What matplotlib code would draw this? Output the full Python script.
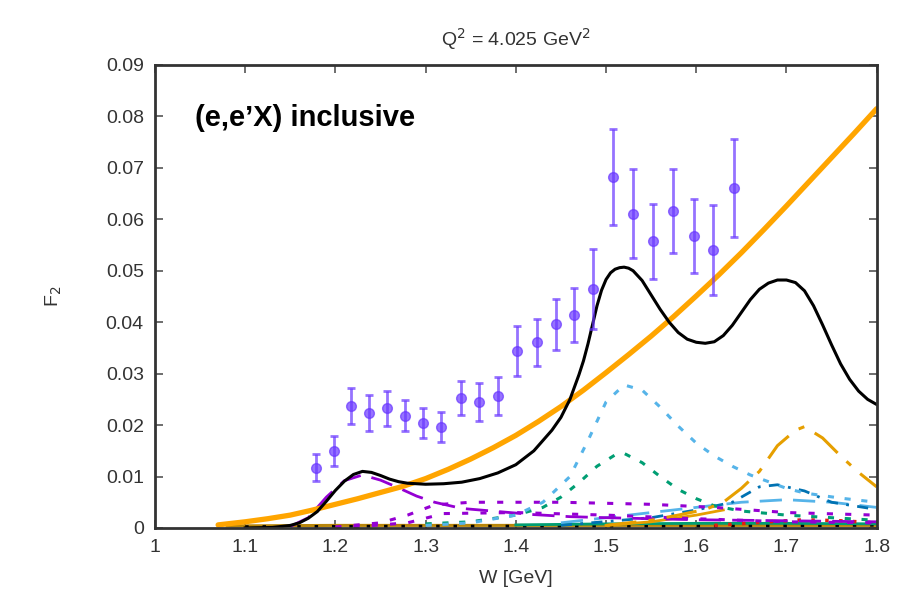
import matplotlib
matplotlib.use("Agg")
import matplotlib.pyplot as plt

plt.rcParams['font.family'] = ['Liberation Sans', 'DejaVu Sans']

# ---------------- data ----------------
data_W = [1.179, 1.198, 1.217, 1.237, 1.257, 1.277, 1.297, 1.317, 1.339, 1.359, 1.380,
          1.401, 1.423, 1.444, 1.464, 1.486, 1.508, 1.530, 1.552, 1.574, 1.597, 1.619, 1.642]
data_F2 = [0.0117, 0.0149, 0.0238, 0.0223, 0.0233, 0.0218, 0.0204, 0.0197, 0.0252, 0.0245, 0.0257,
           0.0344, 0.0361, 0.0396, 0.0414, 0.0465, 0.0682, 0.0611, 0.0557, 0.0616, 0.0567, 0.0540, 0.0661]
data_err = [0.0026, 0.0029, 0.0035, 0.0035, 0.0034, 0.0030, 0.0030, 0.0029, 0.0033, 0.0037, 0.0037,
            0.0049, 0.0046, 0.0050, 0.0053, 0.0078, 0.0093, 0.0087, 0.0073, 0.0082, 0.0072, 0.0087, 0.0096]

total_W = [1.10, 1.13, 1.15, 1.16, 1.17, 1.18, 1.19, 1.20, 1.21, 1.22, 1.23, 1.24, 1.25, 1.26,
           1.27, 1.28, 1.30, 1.32, 1.34, 1.36, 1.38, 1.40, 1.42, 1.44, 1.45, 1.46, 1.47, 1.475,
           1.48, 1.485, 1.49, 1.495, 1.50, 1.505, 1.51, 1.515, 1.52, 1.525, 1.53, 1.54, 1.55,
           1.56, 1.57, 1.58, 1.59, 1.60, 1.61, 1.62, 1.63, 1.64, 1.65, 1.66, 1.67, 1.68, 1.69,
           1.70, 1.71, 1.72, 1.73, 1.74, 1.75, 1.76, 1.77, 1.78, 1.79, 1.80]
total_F2 = [0.0000, 0.0001, 0.0005, 0.0010, 0.0019, 0.0032, 0.0052, 0.0073, 0.0091, 0.0104, 0.0110,
            0.0108, 0.0102, 0.0095, 0.0090, 0.0087, 0.0085, 0.0086, 0.0089, 0.0096, 0.0107, 0.0123,
            0.0150, 0.0190, 0.0215, 0.0250, 0.0298, 0.0325, 0.0358, 0.0395, 0.0432, 0.0462, 0.0483,
            0.0496, 0.0503, 0.0506, 0.0507, 0.0505, 0.0500, 0.0481, 0.0453, 0.0425, 0.0400, 0.0380,
            0.0367, 0.0361, 0.0359, 0.0362, 0.0374, 0.0394, 0.0419, 0.0444, 0.0464, 0.0476, 0.0482,
            0.0482, 0.0477, 0.0461, 0.0432, 0.0395, 0.0356, 0.0319, 0.0289, 0.0266, 0.0250, 0.0240]

bg_W = [1.07, 1.10, 1.125, 1.15, 1.175, 1.20, 1.225, 1.25, 1.275, 1.30, 1.325, 1.35, 1.375, 1.40,
        1.425, 1.45, 1.475, 1.50, 1.525, 1.55, 1.575, 1.60, 1.625, 1.65, 1.675, 1.70, 1.725,
        1.75, 1.775, 1.80]
bg_F2 = [0.0006, 0.0012, 0.0018, 0.0025, 0.0035, 0.0046, 0.0057, 0.0069, 0.0081, 0.0096, 0.0114,
         0.0134, 0.0156, 0.0180, 0.0207, 0.0236, 0.0268, 0.0302, 0.0337, 0.0373, 0.0411, 0.0451,
         0.0492, 0.0535, 0.0580, 0.0626, 0.0673, 0.0720, 0.0767, 0.0815]

cyan_W = [1.30, 1.35, 1.40, 1.43, 1.46, 1.48, 1.50, 1.52, 1.54, 1.56, 1.58, 1.60, 1.62, 1.64,
          1.66, 1.68, 1.70, 1.72, 1.76, 1.80]
cyan_F2 = [0.0005, 0.0010, 0.0025, 0.0050, 0.0100, 0.0170, 0.0245, 0.0278, 0.0268, 0.0235, 0.0198,
           0.0165, 0.0140, 0.0120, 0.0103, 0.0090, 0.0077, 0.0068, 0.0058, 0.0050]

green_W = [1.30, 1.35, 1.40, 1.43, 1.45, 1.47, 1.49, 1.51, 1.52, 1.54, 1.56, 1.58, 1.60, 1.62,
           1.65, 1.70, 1.75, 1.80]
green_F2 = [0.0008, 0.0012, 0.0025, 0.0040, 0.0060, 0.0088, 0.0120, 0.0142, 0.0145, 0.0127, 0.0100,
            0.0075, 0.0057, 0.0043, 0.0033, 0.0025, 0.0020, 0.0015]

odash_W = [1.50, 1.55, 1.58, 1.61, 1.63, 1.65, 1.67, 1.69, 1.71, 1.72, 1.74, 1.76, 1.78, 1.80]
odash_F2 = [0.0005, 0.0015, 0.0025, 0.0036, 0.0050, 0.0077, 0.0110, 0.0160, 0.0190, 0.0197, 0.0175,
            0.0140, 0.0108, 0.0080]

purple_W = [1.15, 1.17, 1.19, 1.21, 1.23, 1.25, 1.27, 1.29, 1.31, 1.34, 1.38, 1.42, 1.46, 1.50,
            1.55, 1.60, 1.70, 1.80]
purple_F2 = [0.0003, 0.0020, 0.0060, 0.0092, 0.0103, 0.0093, 0.0078, 0.0062, 0.0050, 0.0038, 0.0032,
             0.0026, 0.0022, 0.0020, 0.0018, 0.0016, 0.0014, 0.0012]

pdot1_W = [1.20, 1.25, 1.28, 1.31, 1.35, 1.45, 1.55, 1.62, 1.70, 1.80]
pdot1_F2 = [0.0002, 0.0010, 0.0025, 0.0045, 0.0050, 0.0050, 0.0046, 0.0040, 0.0030, 0.0025]

pdot2_W = [1.22, 1.28, 1.32, 1.40, 1.50, 1.60, 1.70, 1.80]
pdot2_F2 = [0.0002, 0.0010, 0.0028, 0.0030, 0.0025, 0.0018, 0.0012, 0.0010]

blue_W = [1.45, 1.55, 1.60, 1.64, 1.67, 1.69, 1.72, 1.75, 1.80]
blue_F2 = [0.0005, 0.0020, 0.0035, 0.0050, 0.0080, 0.0084, 0.0072, 0.0050, 0.0036]

lcyan_W = [1.45, 1.50, 1.55, 1.60, 1.65, 1.70, 1.75, 1.80]
lcyan_F2 = [0.0010, 0.0020, 0.0030, 0.0040, 0.0050, 0.0055, 0.0050, 0.0040]

osol_W = [1.50, 1.55, 1.60, 1.63]
osol_F2 = [0.0005, 0.0012, 0.0025, 0.0035]

gsol_W = [1.40, 1.50, 1.60, 1.70, 1.80]
gsol_F2 = [0.0006, 0.0008, 0.0009, 0.0009, 0.0008]

red_W = [1.62, 1.68, 1.72, 1.76, 1.80]
red_F2 = [0.0005, 0.0012, 0.0016, 0.0014, 0.0010]

gold_W = [1.08, 1.20, 1.40, 1.60, 1.80]
gold_F2 = [0.0004, 0.0005, 0.0005, 0.0005, 0.0005]

blk_W = [1.10, 1.30, 1.50, 1.65, 1.80]
blk_F2 = [0.0002, 0.0003, 0.0003, 0.0004, 0.0006]

xticks = [1.0, 1.1, 1.2, 1.3, 1.4, 1.5, 1.6, 1.7, 1.8]
xtick_labels = ['1', '1.1', '1.2', '1.3', '1.4', '1.5', '1.6', '1.7', '1.8']
yticks = [0, 0.01, 0.02, 0.03, 0.04, 0.05, 0.06, 0.07, 0.08, 0.09]
ytick_labels = ['0', '0.01', '0.02', '0.03', '0.04', '0.05', '0.06', '0.07', '0.08', '0.09']

# ---------------- figure ----------------
fig = plt.figure(figsize=(9.01, 6.13), dpi=100)
ax = fig.add_axes([0.172, 0.1387, 0.801, 0.7553])

# near-zero components
ax.plot(gold_W, gold_F2, color='#B8860B', lw=2.2)
ax.plot(blk_W, blk_F2, color='black', lw=2.5, ls=(0, (1, 4)))
ax.plot(gsol_W, gsol_F2, color='#009E73', lw=2.0)
ax.plot(red_W, red_F2, color='#E51E10', lw=2.5, ls=(0, (1, 3)))
ax.plot(osol_W, osol_F2, color='#E69F00', lw=2.0)
ax.plot(lcyan_W, lcyan_F2, color='#56B4E9', lw=2.0, ls=(0, (8, 4)))
ax.plot(blue_W, blue_F2, color='#0072B2', lw=2.0, ls=(0, (4, 3, 1, 3)))
ax.plot(pdot2_W, pdot2_F2, color='#9400D3', lw=2.2, ls=(0, (2, 4)))
ax.plot(pdot1_W, pdot1_F2, color='#9400D3', lw=2.2, ls=(0, (2, 4)))
ax.plot(purple_W, purple_F2, color='#9400D3', lw=2.0, ls=(0, (8, 4)))

# resonance components
ax.plot(green_W, green_F2, color='#009E73', lw=2.2, ls=(0, (2, 3.5)))
ax.plot(cyan_W, cyan_F2, color='#56B4E9', lw=2.2, ls=(0, (2, 3.5)))
ax.plot(odash_W, odash_F2, color='#E69F00', lw=2.2, ls=(0, (10, 4, 2, 4)))

# background & total
ax.plot(bg_W, bg_F2, color='#FFA500', lw=3.8, solid_capstyle='round', solid_joinstyle='round')
ax.plot(total_W, total_F2, color='black', lw=2.2, solid_joinstyle='round')

# data
ax.errorbar(data_W, data_F2, yerr=data_err, fmt='o', color='#6A38FF', alpha=0.7,
            ms=7, elinewidth=2.0, capsize=3, capthick=2.0, zorder=5)

ax.set_xlim(1.0, 1.8)
ax.set_ylim(0, 0.09)
ax.set_xticks(xticks)
ax.set_xticklabels(xtick_labels)
ax.set_yticks(yticks)
ax.set_yticklabels(ytick_labels)
ax.tick_params(direction='in', length=6, width=1.2, colors='#555555', labelcolor='#333333',
               labelsize=14, top=True, right=True, pad=8)
for s in ax.spines.values():
    s.set_linewidth(2.0)
    s.set_color('#333333')

ax.set_xlabel('W [GeV]', fontsize=14, color='#333333', labelpad=10)
ax.set_ylabel('F$_2$', fontsize=14, color='#333333', labelpad=30)
ax.set_title('Q$^2$ = 4.025 GeV$^2$', fontsize=14, color='#333333', pad=14)

ax.text(0.055, 0.886, '(e,e\u2019X) inclusive', transform=ax.transAxes, fontsize=21,
        fontweight='bold', ha='left', va='center', color='black')

fig.savefig('out.png', dpi=100)
